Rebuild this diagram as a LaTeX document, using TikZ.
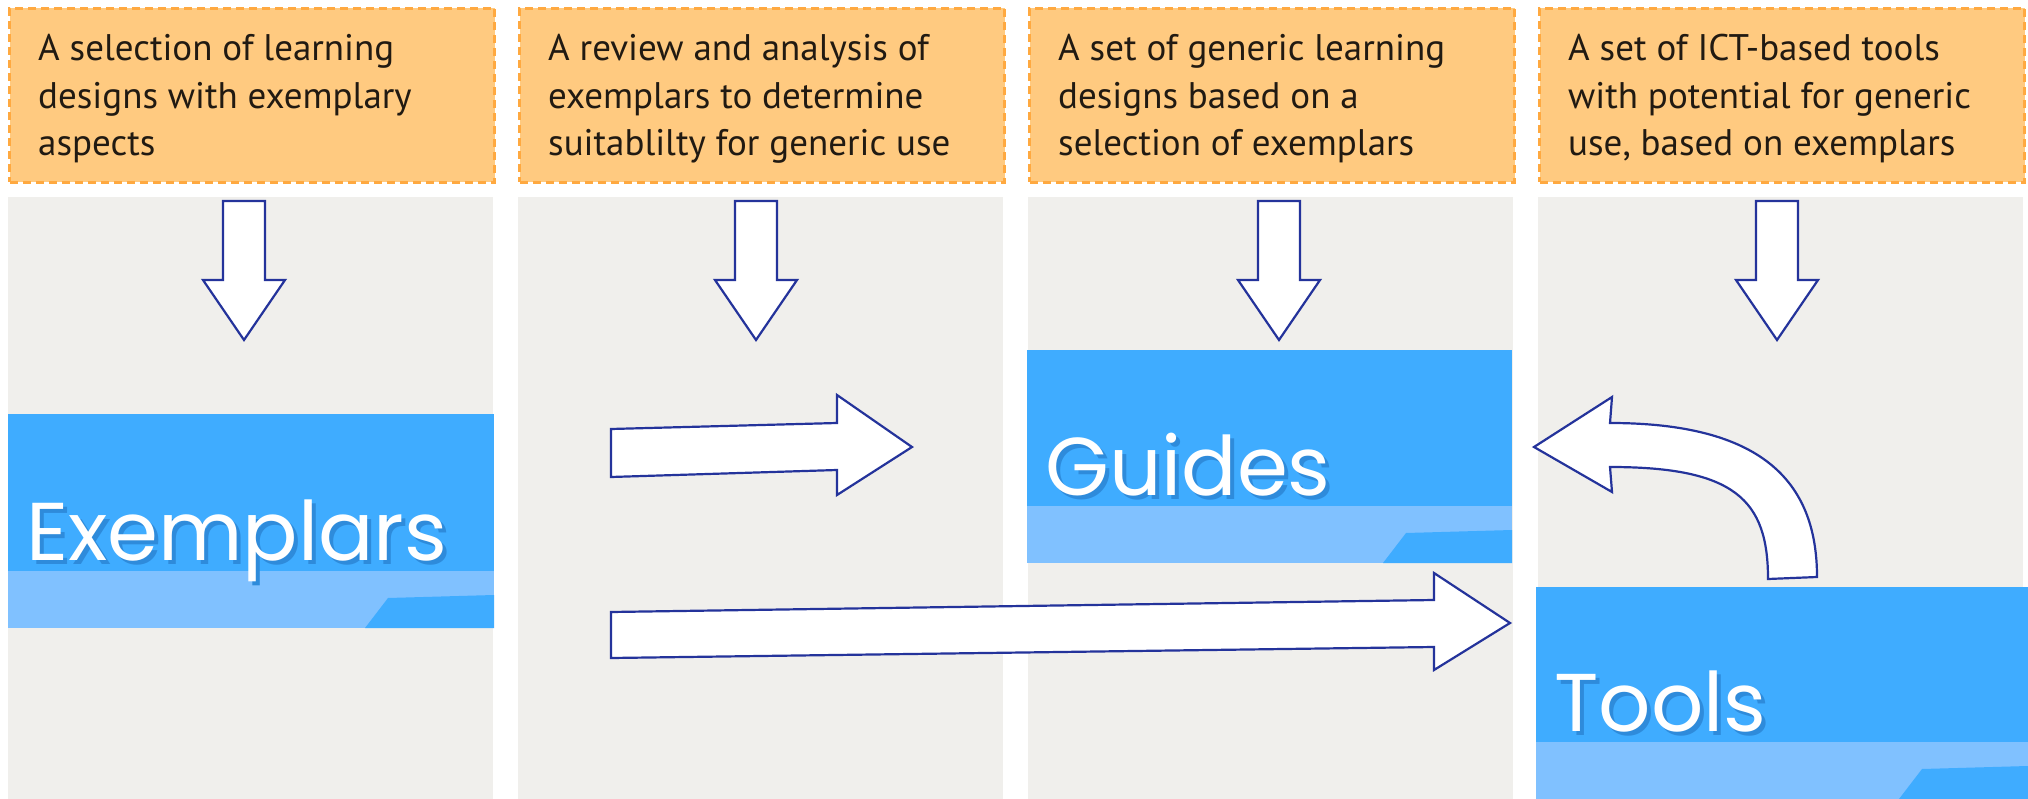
\documentclass[tikz,border=0pt]{standalone}
\usepackage{fontspec}
\setmainfont{PT Sans}
\newfontfamily\handfont{Poppins}
\usepackage{xcolor}
\usepackage{tikz}

\definecolor{panelgrey}{HTML}{F0EFEC}
\definecolor{notefill}{HTML}{FFCA80}
\definecolor{notedash}{HTML}{FFA940}
\definecolor{notetextcol}{HTML}{211A12}
\definecolor{boxblue}{HTML}{3FACFF}
\definecolor{bandblue}{HTML}{80C1FF}
\definecolor{shadeblue}{HTML}{2E8BDB}
\definecolor{arrownavy}{HTML}{24339B}

\tikzset{
  panel/.style={fill=panelgrey, inner sep=0, minimum width=485pt, minimum height=602pt, anchor=north west},
  note/.style={fill=notefill, draw=notedash, line width=3pt, dash pattern=on 8pt off 5pt, inner sep=0, minimum width=485pt, minimum height=174pt, anchor=north west},
  notetext/.style={text=notetextcol, inner sep=0, align=left, anchor=north west, font=\fontsize{37}{47.5}\selectfont},
  bluebox/.style={fill=boxblue, inner sep=0, anchor=north west},
  handlabel/.style={inner sep=0, anchor=base west, font=\handfont\fontsize{82}{84}\selectfont},
  blockarrow/.style={draw=arrownavy, fill=white, line width=2.2pt, line join=miter}
}

\begin{document}
\begin{tikzpicture}[x=1pt,y=-1pt]
  \fill[white] (0,0) rectangle (2028,799);
  \useasboundingbox (0,0) rectangle (2028,799);

  \foreach \i/\txt in {0/{A selection of learning\\designs with exemplary\\aspects},
                       1/{A review and analysis of\\exemplars to determine\\suitablilty for generic use},
                       2/{A set of generic learning\\designs based on a\\selection of exemplars},
                       3/{A set of ICT-based tools\\with potential for generic\\use, based on exemplars}} {
    \pgfmathsetmacro\xl{8+510*\i}
    \node[panel] (panel\i) at (\xl,197) {};
    \node[note] (note\i) at (\xl,7) {};
    \node[notetext] (txt\i) at ([xshift=30pt,yshift=-27pt]note\i.north west) {\txt};
  }

  \foreach \nm/\lab/\l/\t/\r/\b in {exemplars/Exemplars/8/414/494/628,
                                    guides/Guides/1027/350/1512/563,
                                    tools/Tools/1536/587/2028/799} {
    \node[bluebox, minimum width={\r-\l}, minimum height={\b-\t}] (\nm) at (\l,\t) {};
    \fill[bandblue] (\l,{\b-57}) rectangle (\r,\b);
    \fill[boxblue] ({\r-129},\b) -- ({\r-106},{\b-30}) -- (\r,{\b-33}) -- (\r,\b) -- cycle;
    \node[handlabel, text=shadeblue] (\nm-sh) at ({\l+22},{\b-64}) {\lab};
    \node[handlabel, text=white] (\nm-lab) at ({\l+18},{\b-68}) {\lab};
  }

  \foreach \c in {244,756,1279,1777} {
    \draw[blockarrow] ({\c-21},201) -- ({\c+21},201) -- ({\c+21},280) -- ({\c+41},280)
      -- (\c,340) -- ({\c-41},280) -- ({\c-21},280) -- cycle;
  }

  \draw[blockarrow] (611,429) -- (837,423) -- (837,395) -- (912,447) -- (837,495) -- (837,470) -- (611,477) -- cycle;
  \draw[blockarrow] (611,612) -- (1434,600) -- (1434,573) -- (1510,623) -- (1434,670) -- (1434,647) -- (611,658) -- cycle;
  \draw[blockarrow] (1817,577) .. controls (1817,480) and (1760,423) .. (1610,423) -- (1612,397) -- (1534,447)
    -- (1612,492) -- (1610,467) .. controls (1735,467) and (1768,500) .. (1768,579) -- cycle;
\end{tikzpicture}
\end{document}
